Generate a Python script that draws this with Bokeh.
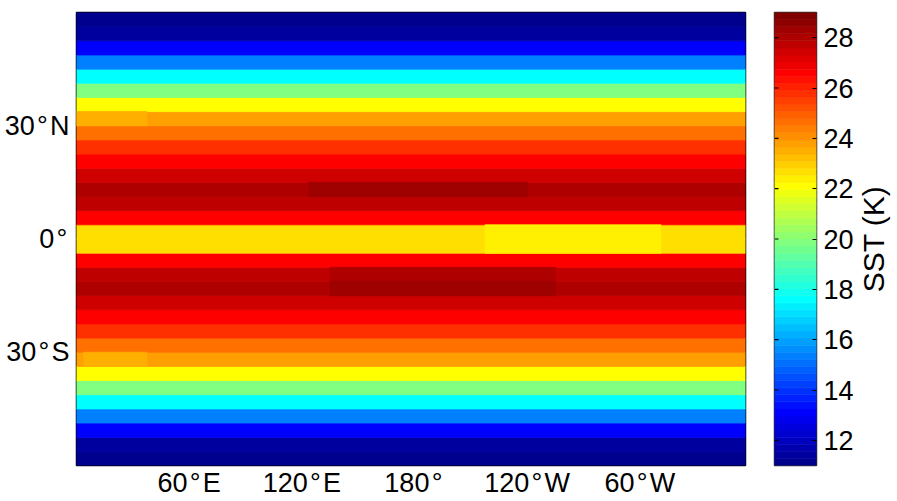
import numpy as np
from bokeh.plotting import figure
from bokeh.layouts import row
from bokeh.models import (ColumnDataSource, FixedTicker, LinearColorMapper,
                          Range1d)
from bokeh.core.properties import value
from bokeh.transform import transform
from bokeh.embed import file_html
from bokeh.resources import INLINE

# ---------------------------------------------------------------- data
# Longitude extent of the grid (degrees east) and latitude band edges
LON_WEST, LON_EAST = 0.0, 356.25
lat_edges = np.linspace(-60.0, 60.0, 33)          # 32 bands of 3.75 deg

# Zonal-band SST (K), listed from the southernmost band northwards
band_sst = [
    11.15, 11.4, 13.1, 15.35, 17.6, 19.85, 22.1, 23.8,
    24.65, 25.75, 26.6, 27.5, 27.95, 27.7, 26.7, 22.65,
    22.65, 26.7, 27.7, 27.95, 27.5, 26.6, 25.75, 24.65,
    23.8, 22.1, 19.85, 17.6, 15.35, 13.1, 11.4, 11.15,
]

# Regional departures from the band value: band index, west/east edge, SST (K)
patch_band = [15, 16, 19, 13, 12, 24, 7]
patch_west = [217.5, 217.5, 123.75, 135.0, 135.0, 0.0, 3.75]
patch_east = [311.25, 311.25, 240.0, 255.0, 255.0, 37.5, 37.5]
patch_sst = [22.4, 22.4, 28.2, 27.95, 28.2, 23.5, 23.5]

# Axis ticks
DEG = "\u200a°\u200a"
lon_ticks = [60, 120, 180, 240, 300]
lon_labels = ["60" + DEG + "E", "120" + DEG + "E", "180" + DEG,
              "120" + DEG + "W", "60" + DEG + "W"]
lat_ticks = [-30, 0, 30]
lat_labels = ["30" + DEG + "S", "0" + DEG, "30" + DEG + "N"]
cbar_ticks = [12, 14, 16, 18, 20, 22, 24, 26, 28]
SST_LOW, SST_HIGH = 11.0, 29.0
CBAR_TITLE = "SST (K)"


# ---------------------------------------------------------------- colour map
def jet(n=64):
    """MATLAB-style jet colormap with n entries, as hex strings."""
    q = int(np.ceil(n / 4))
    u = np.concatenate([np.arange(1, q + 1) / q, np.ones(q - 1),
                        np.arange(q, 0, -1) / q])
    g0 = int(np.ceil(q / 2)) - (1 if n % 4 == 1 else 0)
    idx = np.arange(1, len(u) + 1)
    chans = []
    for off in (q, 0, -q):
        c = np.zeros(n)
        pos = g0 + idx + off
        ok = (pos >= 1) & (pos <= n)
        c[pos[ok] - 1] = u[ok]
        chans.append(c)
    r, g, b = chans
    return ["#%02x%02x%02x" % (int(round(255 * a)), int(round(255 * bb)),
                               int(round(255 * cc)))
            for a, bb, cc in zip(r, g, b)]


palette = jet(64)
mapper = LinearColorMapper(palette=palette, low=SST_LOW, high=SST_HIGH)

FONT = "Liberation Sans"
FS = "27px"
TOP, BOTTOM = 12, 36          # shared so all frames line up in the row

# ---------------------------------------------------------------- map panel
p = figure(width=760, height=501,
           x_range=Range1d(LON_WEST, LON_EAST), y_range=Range1d(-60, 60),
           min_border_left=76, min_border_right=15,
           min_border_top=TOP, min_border_bottom=BOTTOM,
           output_backend="svg", toolbar_location=None)

bands = ColumnDataSource(dict(
    left=[LON_WEST] * len(band_sst), right=[LON_EAST] * len(band_sst),
    bottom=list(lat_edges[:-1]), top=list(lat_edges[1:]), sst=band_sst))
p.quad(left="left", right="right", bottom="bottom", top="top", source=bands,
       fill_color=transform("sst", mapper), line_color=transform("sst", mapper),
       line_width=0.8)

patches = ColumnDataSource(dict(
    left=patch_west, right=patch_east,
    bottom=[lat_edges[i] for i in patch_band],
    top=[lat_edges[i + 1] for i in patch_band], sst=patch_sst))
p.quad(left="left", right="right", bottom="bottom", top="top", source=patches,
       fill_color=transform("sst", mapper), line_color=transform("sst", mapper),
       line_width=0.8)

p.xgrid.visible = False
p.ygrid.visible = False
p.outline_line_color = "black"
p.outline_line_width = 1.5
p.background_fill_color = "white"

for ax, ticks, labels in ((p.xaxis[0], lon_ticks, lon_labels),
                          (p.yaxis[0], lat_ticks, lat_labels)):
    ax.ticker = FixedTicker(ticks=ticks)
    ax.major_label_overrides = {t: s for t, s in zip(ticks, labels)}
    ax.major_tick_in = 0
    ax.major_tick_out = 0
    ax.minor_tick_line_color = None
    ax.axis_line_color = None
    ax.major_label_text_font = FONT
    ax.major_label_text_font_size = FS
    ax.major_label_text_color = "black"
p.xaxis[0].major_label_standoff = 2
p.yaxis[0].major_label_standoff = 7

# ---------------------------------------------------------------- colour bar
levels = np.linspace(SST_LOW, SST_HIGH, len(palette) + 1)
cb_src = ColumnDataSource(dict(bottom=levels[:-1], top=levels[1:],
                               mid=0.5 * (levels[:-1] + levels[1:])))

cb = figure(width=96, height=501,
            x_range=Range1d(0, 1), y_range=Range1d(SST_LOW, SST_HIGH),
            min_border_left=14, min_border_right=40,
            min_border_top=TOP, min_border_bottom=BOTTOM,
            x_axis_location=None, y_axis_location="right",
            output_backend="svg", toolbar_location=None)
cb.quad(left=0, right=1, bottom="bottom", top="top", source=cb_src,
        fill_color=transform("mid", mapper), line_color=transform("mid", mapper),
        line_width=0.6)
# inward tick marks along the left edge of the bar
cb.ray(x=0, y=cbar_ticks, length=4, length_units="screen", angle=0,
       line_color="black", line_width=1.2)
cb.xgrid.visible = False
cb.ygrid.visible = False
cb.outline_line_color = "#333333"
cb.outline_line_width = 1.5

ax = cb.yaxis[0]
ax.ticker = FixedTicker(ticks=cbar_ticks)
ax.major_tick_in = 4
ax.major_tick_out = 0
ax.major_tick_line_color = "black"
ax.major_tick_line_width = 1.2
ax.minor_tick_line_color = None
ax.axis_line_color = None
ax.major_label_text_font = FONT
ax.major_label_text_font_size = FS
ax.major_label_text_color = "black"
ax.major_label_standoff = 7

# ---------------------------------------------------------------- bar title
tt = figure(width=41, height=501, x_range=Range1d(0, 1), y_range=Range1d(0, 1),
            min_border_left=0, min_border_right=0,
            min_border_top=TOP, min_border_bottom=BOTTOM,
            x_axis_location=None, y_axis_location=None,
            output_backend="svg", toolbar_location=None)
tt.xgrid.visible = False
tt.ygrid.visible = False
tt.outline_line_color = None
tt.text(x=[0.42], y=[0.5], text=[CBAR_TITLE], angle=np.pi / 2,
        text_align="center", text_baseline="middle",
        text_font=value(FONT), text_font_size=value("30px"),
        text_color="black")

layout = row(p, cb, tt)
open("out.html", "w").write(file_html(layout, INLINE))
